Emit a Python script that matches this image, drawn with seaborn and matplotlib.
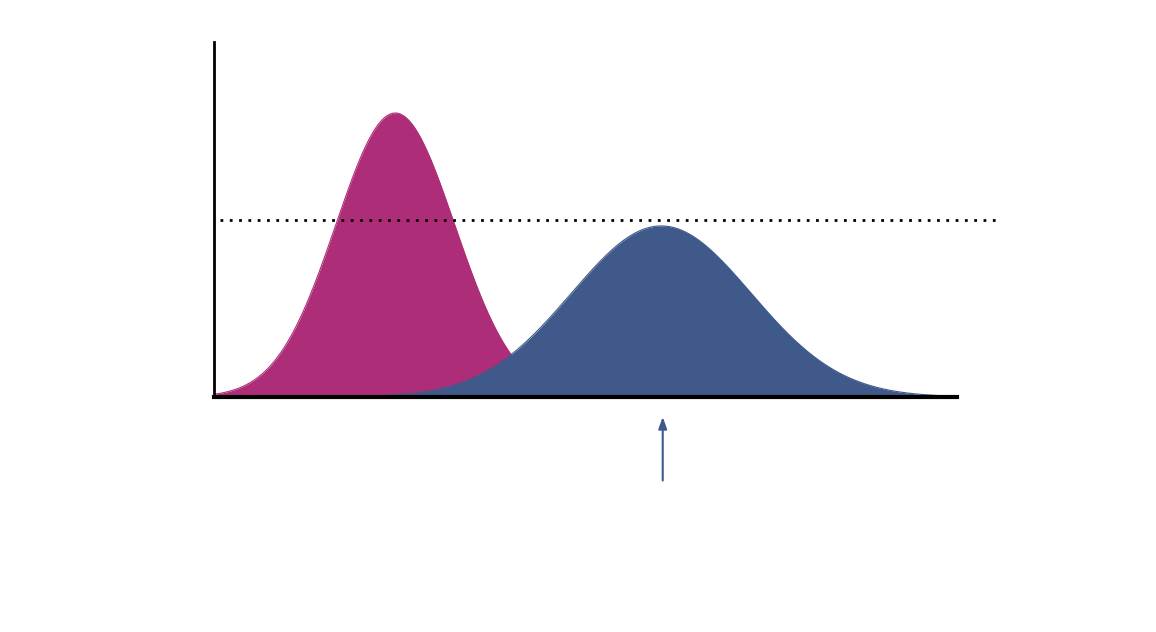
import numpy as np
import pandas as pd
import matplotlib
matplotlib.use("Agg")
import matplotlib.pyplot as plt
import seaborn as sns

# Distribution parameters
names = ["A", "B"]
means = [2.44, 6.02]
sigmas = [0.80, 1.21]
peaks = [0.80, 0.482]
colors = ["#AE2D78", "#3F5A8A"]
threshold = 0.50
arrow_x = 6.04

sns.set_style("white")
fig = plt.figure(figsize=(11.56, 6.32), dpi=100)
ax = fig.add_axes([0.1851, 0.3718, 0.6427, 0.5617])

x = np.linspace(0, 10, 600)
frames = []
for n, m, s, p in zip(names, means, sigmas, peaks):
    frames.append(pd.DataFrame({"x": x, "y": p * np.exp(-0.5 * ((x - m) / s) ** 2), "name": n}))
df = pd.concat(frames)

for i, (n, c) in enumerate(zip(names, colors)):
    sub = df[df["name"] == n]
    ax.fill_between(sub["x"], 0, sub["y"], color=c, lw=0, zorder=2 + 2 * i)
    sns.lineplot(data=sub, x="x", y="y", color=c, lw=0.8, ax=ax, legend=False, zorder=3 + 2 * i)

ax.plot([0.08, 10.58], [threshold, threshold], ls=(0, (1, 2.35)), color="black", lw=2,
        clip_on=False, zorder=8)

ax.annotate("", xy=(arrow_x, -0.048), xytext=(arrow_x, -0.243), xycoords="data",
            arrowprops=dict(arrowstyle="-|>,head_length=0.7,head_width=0.25", color=colors[1], lw=1.5),
            annotation_clip=False)

ax.set_xlim(0, 10)
ax.set_ylim(0, 1)
ax.set_xticks([])
ax.set_yticks([])
ax.set_xlabel("")
ax.set_ylabel("")
for side in ["top", "right"]:
    ax.spines[side].set_visible(False)
ax.spines["left"].set_color("black")
ax.spines["left"].set_linewidth(2)
ax.spines["bottom"].set_color("black")
ax.spines["bottom"].set_linewidth(3)
ax.spines["bottom"].set_zorder(10)
ax.spines["left"].set_zorder(10)

fig.savefig("out.png", dpi=100, facecolor="white")
